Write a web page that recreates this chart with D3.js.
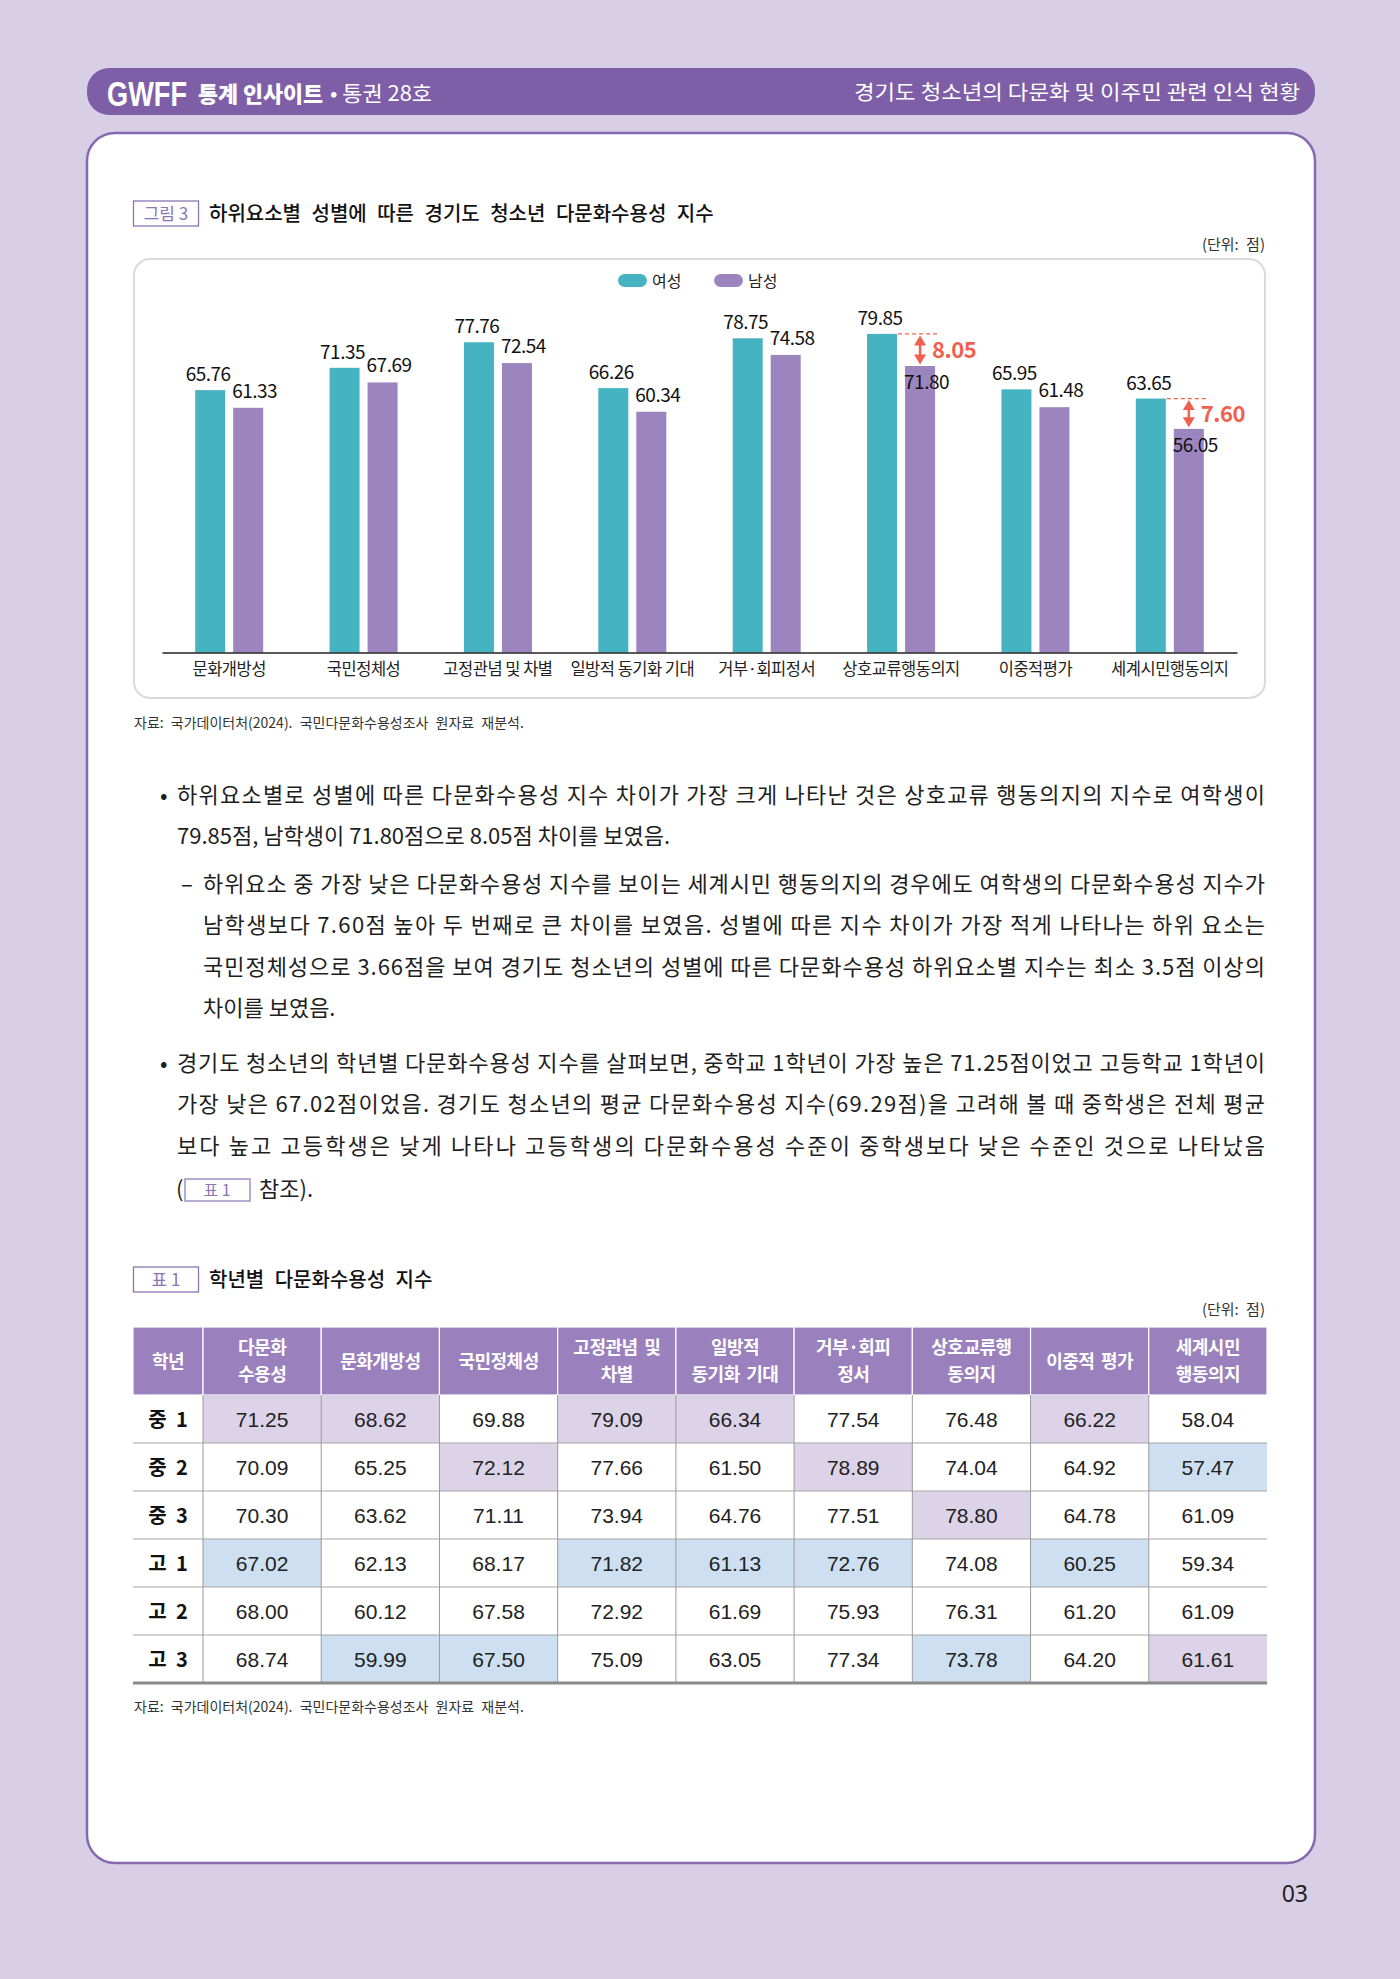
<!DOCTYPE html>
<html>
<head>
<meta charset="utf-8">
<script src="https://cdn.jsdelivr.net/npm/d3@7"></script>
<style>
  body { margin: 0; background: #d8cee6; }
  svg { display: block; font-family: "Noto Sans CJK KR", "Noto Sans", sans-serif; }
</style>
</head>
<body>
<div id="page"></div>
<script>
// chart data
var categories = ["문화개방성", "국민정체성", "고정관념 및 차별", "일방적 동기화 기대", "거부·회피정서", "상호교류행동의지", "이중적평가", "세계시민행동의지"];
var female = [65.76, 71.35, 77.76, 66.26, 78.75, 79.85, 65.95, 63.65];
var male = [61.33, 67.69, 72.54, 60.34, 74.58, 71.80, 61.48, 56.05];
var gapCategories = ["상호교류행동의지", "세계시민행동의지"];
var seriesNames = ["여성", "남성"];

// table data
var tableHeaders = [["학년"], ["다문화", "수용성"], ["문화개방성"], ["국민정체성"], ["고정관념 및", "차별"], ["일방적", "동기화 기대"], ["거부·회피", "정서"], ["상호교류행", "동의지"], ["이중적 평가"], ["세계시민", "행동의지"]];
var grades = ["중 1", "중 2", "중 3", "고 1", "고 2", "고 3"];
var scores = [
  [71.25, 68.62, 69.88, 79.09, 66.34, 77.54, 76.48, 66.22, 58.04],
  [70.09, 65.25, 72.12, 77.66, 61.50, 78.89, 74.04, 64.92, 57.47],
  [70.30, 63.62, 71.11, 73.94, 64.76, 77.51, 78.80, 64.78, 61.09],
  [67.02, 62.13, 68.17, 71.82, 61.13, 72.76, 74.08, 60.25, 59.34],
  [68.00, 60.12, 67.58, 72.92, 61.69, 75.93, 76.31, 61.20, 61.09],
  [68.74, 59.99, 67.50, 75.09, 63.05, 77.34, 73.78, 64.20, 61.61]
];

// body text lines (justified, last line of each block left as is)
var bullet1 = ["하위요소별로 성별에 따른 다문화수용성 지수 차이가 가장 크게 나타난 것은 상호교류 행동의지의 지수로 여학생이",
  "79.85점, 남학생이 71.80점으로 8.05점 차이를 보였음."];
var dash1 = ["하위요소 중 가장 낮은 다문화수용성 지수를 보이는 세계시민 행동의지의 경우에도 여학생의 다문화수용성 지수가",
  "남학생보다 7.60점 높아 두 번째로 큰 차이를 보였음. 성별에 따른 지수 차이가 가장 적게 나타나는 하위 요소는",
  "국민정체성으로 3.66점을 보여 경기도 청소년의 성별에 따른 다문화수용성 하위요소별 지수는 최소 3.5점 이상의",
  "차이를 보였음."];
var bullet2 = ["경기도 청소년의 학년별 다문화수용성 지수를 살펴보면, 중학교 1학년이 가장 높은 71.25점이었고 고등학교 1학년이",
  "가장 낮은 67.02점이었음. 경기도 청소년의 평균 다문화수용성 지수(69.29점)을 고려해 볼 때 중학생은 전체 평균",
  "보다 높고 고등학생은 낮게 나타나 고등학생의 다문화수용성 수준이 중학생보다 낮은 수준인 것으로 나타났음",
  ""];

var sourceText = "자료: 국가데이터처(2024). 국민다문화수용성조사 원자료 재분석.";

var TEAL = "#46b3c2", PURPLE = "#9c85bf", RED = "#f1604d", BOXC = "#8a76b5";

var svg = d3.select("#page").append("svg")
  .attr("width", 1400).attr("height", 1979);

svg.append("rect").attr("width", 1400).attr("height", 1979).attr("fill", "#d8cee6");

// header bar
svg.append("rect").attr("x", 87).attr("y", 68).attr("width", 1228).attr("height", 47)
  .attr("rx", 22).attr("fill", "#7e5fa7");
svg.append("text").attr("transform", "translate(107,106) scale(1,1.32)").text("GWFF")
  .attr("font-family", "'Liberation Sans', sans-serif")
  .attr("font-weight", 700).attr("font-size", 27).attr("fill", "#fff")
  .attr("textLength", 80).attr("lengthAdjust", "spacingAndGlyphs");
svg.append("text").attr("x", 198).attr("y", 102).text("통계 인사이트")
  .attr("font-weight", 900).attr("font-size", 22).attr("fill", "#fff")
  .attr("textLength", 125).attr("lengthAdjust", "spacingAndGlyphs");
svg.append("text").attr("x", 330).attr("y", 101).text("• 통권 28호")
  .attr("font-size", 21).attr("fill", "#fff")
  .attr("textLength", 102).attr("lengthAdjust", "spacingAndGlyphs");
svg.append("text").attr("x", 854).attr("y", 100).text("경기도 청소년의 다문화 및 이주민 관련 인식 현황")
  .attr("font-size", 20.5).attr("fill", "#fff")
  .attr("textLength", 446).attr("lengthAdjust", "spacingAndGlyphs");

// white page panel
svg.append("rect").attr("x", 87).attr("y", 133).attr("width", 1228).attr("height", 1730)
  .attr("rx", 28).attr("fill", "#fff").attr("stroke", "#8769b0").attr("stroke-width", 2.5);

function titleBox(label, title, top) {
  svg.append("rect").attr("x", 133.5).attr("y", top).attr("width", 65).attr("height", 25)
    .attr("fill", "#fff").attr("stroke", BOXC).attr("stroke-width", 1.3);
  svg.append("text").attr("x", 166).attr("y", top + 19).attr("text-anchor", "middle")
    .attr("font-size", 17).attr("fill", BOXC).text(label);
  svg.append("text").attr("x", 209).attr("y", top + 20)
    .attr("font-size", 20).attr("font-weight", 500).attr("fill", "#111")
    .attr("word-spacing", 6).text(title);
}
function unitText(y) {
  svg.append("text").attr("x", 1265).attr("y", y).attr("text-anchor", "end")
    .attr("font-size", 15).attr("word-spacing", 4).attr("fill", "#333").text("(단위: 점)");
}
function source(y) {
  svg.append("text").attr("x", 134).attr("y", y).attr("font-size", 14)
    .attr("word-spacing", 4).attr("fill", "#333").text(sourceText);
}

// ---- figure 3 ----
titleBox("그림 3", "하위요소별 성별에 따른 경기도 청소년 다문화수용성 지수", 201);
unitText(250);

svg.append("rect").attr("x", 134).attr("y", 259).attr("width", 1131).attr("height", 439)
  .attr("rx", 16).attr("fill", "#fff").attr("stroke", "#dadada").attr("stroke-width", 2);

// legend
var legend = svg.append("g").selectAll("g").data(seriesNames).join("g")
  .attr("transform", function (d, i) { return "translate(" + (618 + i * 96) + ",274)"; });
legend.append("rect").attr("width", 29).attr("height", 13).attr("rx", 6.5)
  .attr("fill", function (d, i) { return i == 0 ? TEAL : PURPLE; });
legend.append("text").attr("x", 34).attr("y", 12.5).attr("font-size", 16)
  .attr("fill", "#222").text(function (d) { return d; });

var x = d3.scaleBand().domain(categories).range([162, 1237]);
var y = d3.scaleLinear().domain([0, 100]).range([652.5, 253.5]);
var barW = 30, gap = 8;
var fmt = d3.format(".2f");

var data = categories.map(function (c, i) {
  return { cat: c, f: female[i], m: male[i], gap: gapCategories.indexOf(c) >= 0 };
});

var groups = svg.append("g").selectAll("g").data(data).join("g")
  .attr("transform", function (d) { return "translate(" + (x(d.cat) + x.bandwidth() / 2) + ",0)"; });

groups.append("rect").attr("x", -gap / 2 - barW).attr("width", barW)
  .attr("y", function (d) { return y(d.f); })
  .attr("height", function (d) { return y(0) - y(d.f); })
  .attr("fill", TEAL);
groups.append("rect").attr("x", gap / 2).attr("width", barW)
  .attr("y", function (d) { return y(d.m); })
  .attr("height", function (d) { return y(0) - y(d.m); })
  .attr("fill", PURPLE);

groups.append("text").attr("x", -gap / 2 - barW / 2 - 2).attr("text-anchor", "middle")
  .attr("y", function (d) { return y(d.f) - 9; })
  .attr("font-size", 19).attr("letter-spacing", -0.5).attr("fill", "#111")
  .text(function (d) { return fmt(d.f); });
groups.append("text").attr("x", gap / 2 - 1)
  .attr("y", function (d) { return d.gap ? y(d.m) + 23 : y(d.m) - 10; })
  .attr("font-size", 19).attr("letter-spacing", -0.5).attr("fill", "#111")
  .text(function (d) { return fmt(d.m); });

// gap annotations
var ann = groups.filter(function (d) { return d.gap; });
var ax = gap / 2 + barW / 2;
ann.append("line").attr("x1", -gap / 2 + 1).attr("x2", gap / 2 + barW + 3)
  .attr("y1", function (d) { return y(d.f); }).attr("y2", function (d) { return y(d.f); })
  .attr("stroke", RED).attr("stroke-width", 1.2).attr("stroke-dasharray", "4,3");
ann.append("line").attr("x1", ax).attr("x2", ax)
  .attr("y1", function (d) { return y(d.f) + 8; }).attr("y2", function (d) { return y(d.m) - 8; })
  .attr("stroke", RED).attr("stroke-width", 2.5);
ann.append("path").attr("fill", RED).attr("d", function (d) {
  var t = y(d.f) + 1.5, b = y(d.m) - 1.5;
  return "M" + ax + "," + t + "L" + (ax + 6) + "," + (t + 10) + "L" + (ax - 6) + "," + (t + 10) + "Z" +
    "M" + ax + "," + b + "L" + (ax + 6) + "," + (b - 10) + "L" + (ax - 6) + "," + (b - 10) + "Z";
});
ann.append("text").attr("x", ax + 12)
  .attr("y", function (d) { return (y(d.f) + y(d.m)) / 2 + 8; })
  .attr("font-size", 22).attr("font-weight", 700).attr("letter-spacing", -0.5).attr("fill", RED)
  .text(function (d) { return fmt(d.f - d.m); });

// category axis
var axis = svg.append("g").attr("transform", "translate(0," + y(0) + ")")
  .call(d3.axisBottom(x).tickSize(0).tickSizeOuter(0).tickPadding(11));
axis.select(".domain").attr("stroke", "#222").attr("stroke-width", 1.5);
axis.selectAll("text").attr("font-family", "'Noto Sans CJK KR', sans-serif")
  .attr("font-size", 16.5).attr("letter-spacing", -0.5).attr("fill", "#222");

source(728);

// ---- body text ----
var lineH = 41.5;
var body = svg.append("g").attr("font-size", 22).attr("fill", "#1e1e1e");
function para(lines, x0, top, marker, mx) {
  body.append("text").attr("x", mx).attr("y", top + 7.5).text(marker);
  body.selectAll(null).data(lines.filter(function (d) { return d; })).join("text")
    .attr("x", x0)
    .attr("y", function (d, i) { return top + i * lineH + 7.5; })
    .attr("textLength", function (d, i) { return i < lines.length - 1 ? 1265 - x0 : null; })
    .attr("lengthAdjust", "spacing")
    .text(function (d) { return d; });
}
para(bullet1, 177, 795, "•", 160);
para(dash1, 203, 884, "–", 181);
para(bullet2, 177, 1063, "•", 160);

// last line: ( [표 1] 참조).
body.append("text").attr("x", 176).attr("y", 1189 + 7.5).text("(");
body.append("rect").attr("x", 185).attr("y", 1179).attr("width", 65).attr("height", 22)
  .attr("fill", "#fff").attr("stroke", BOXC).attr("stroke-width", 1.2);
body.append("text").attr("x", 217).attr("y", 1196).attr("text-anchor", "middle")
  .attr("font-size", 16).attr("fill", BOXC).text("표 1");
body.append("text").attr("x", 259).attr("y", 1189 + 7.5).text("참조).");

// ---- table 1 ----
titleBox("표 1", "학년별 다문화수용성 지수", 1267);
unitText(1315);

var tTop = 1327, headH = 68, rowH = 48;
var firstW = 70, tLeft = 133, tRight = 1267;
var cx = d3.scaleBand().domain(d3.range(9)).range([tLeft + firstW, tRight]);
var colX = function (j) { return j == 0 ? tLeft : cx(j - 1); };
var colW = function (j) { return j == 0 ? firstW : cx.bandwidth(); };

var colMax = d3.range(9).map(function (j) { return d3.max(scores, function (r) { return r[j]; }); });
var colMin = d3.range(9).map(function (j) { return d3.min(scores, function (r) { return r[j]; }); });

var table = svg.append("g");
var head = table.selectAll("g.h").data(tableHeaders).join("g").attr("class", "h");
head.append("rect")
  .attr("x", function (d, j) { return colX(j); }).attr("y", tTop)
  .attr("width", function (d, j) { return colW(j); }).attr("height", headH)
  .attr("fill", "#9a80bc").attr("stroke", "#fff").attr("stroke-width", 1.2);
head.each(function (lines, j) {
  var g = d3.select(this);
  g.selectAll("text").data(lines).join("text")
    .attr("x", colX(j) + colW(j) / 2)
    .attr("y", function (d, k) { return tTop + headH / 2 + 6.5 + (k - (lines.length - 1) / 2) * 27; })
    .attr("text-anchor", "middle").attr("font-size", 18).attr("font-weight", 700)
    .attr("letter-spacing", -0.5).attr("word-spacing", 3).attr("fill", "#fff")
    .text(function (d) { return d; });
});

var rows = table.selectAll("g.r").data(scores).join("g").attr("class", "r")
  .attr("transform", function (d, i) { return "translate(0," + (tTop + headH + i * rowH) + ")"; });
rows.selectAll("rect").data(function (d) { return d; }).join("rect")
  .attr("x", function (d, j) { return cx(j); }).attr("width", cx.bandwidth())
  .attr("height", rowH)
  .attr("fill", function (d, j) { return d == colMax[j] ? "#ddd3e9" : d == colMin[j] ? "#cddff0" : "#fff"; });
rows.selectAll("text.v").data(function (d) { return d; }).join("text").attr("class", "v")
  .attr("x", function (d, j) { return cx(j) + cx.bandwidth() / 2; }).attr("y", rowH / 2 + 7.5)
  .attr("text-anchor", "middle").attr("font-family", "'Liberation Sans', Arial, sans-serif")
  .attr("font-size", 21).attr("fill", "#222")
  .text(function (d) { return fmt(d); });
rows.append("text").attr("x", tLeft + firstW / 2).attr("y", rowH / 2 + 7.5)
  .attr("text-anchor", "middle").attr("font-size", 20).attr("font-weight", 700).attr("fill", "#111")
  .attr("word-spacing", 5)
  .text(function (d, i) { return grades[i]; });

// grid lines
var bodyTop = tTop + headH, bodyBot = bodyTop + grades.length * rowH;
table.selectAll("line.hr").data(d3.range(1, grades.length)).join("line").attr("class", "hr")
  .attr("x1", tLeft).attr("x2", tRight)
  .attr("y1", function (i) { return bodyTop + i * rowH; }).attr("y2", function (i) { return bodyTop + i * rowH; })
  .attr("stroke", "#a5a5a5").attr("stroke-width", 1.2);
table.selectAll("line.vr").data(d3.range(9)).join("line").attr("class", "vr")
  .attr("x1", function (j) { return cx(j); }).attr("x2", function (j) { return cx(j); })
  .attr("y1", bodyTop).attr("y2", bodyBot)
  .attr("stroke", "#9a9a9a").attr("stroke-width", 1);
table.append("line").attr("x1", tLeft).attr("x2", tRight).attr("y1", bodyBot).attr("y2", bodyBot)
  .attr("stroke", "#8a8a8a").attr("stroke-width", 3);

source(1712);

// page number
svg.append("text").attr("x", 1308).attr("y", 1902).attr("text-anchor", "end")
  .attr("font-family", "'Noto Sans', sans-serif").attr("font-size", 23).attr("fill", "#222").text("03");
</script>
</body>
</html>
